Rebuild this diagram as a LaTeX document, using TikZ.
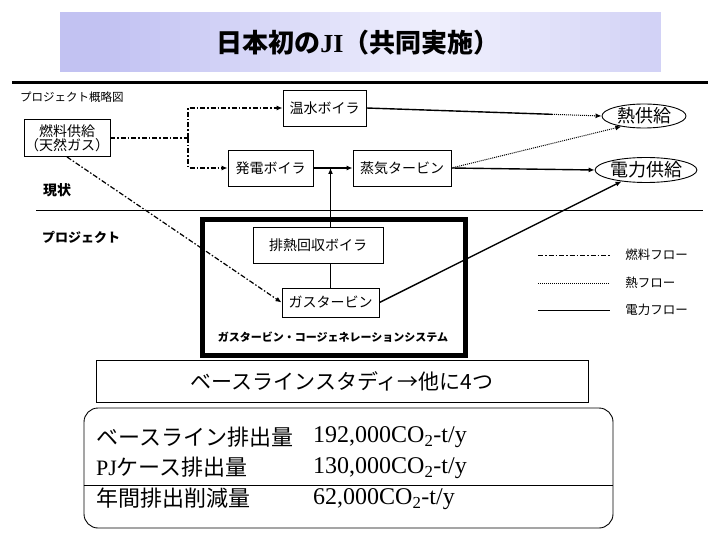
\documentclass[tikz,border=0pt]{standalone}
\usepackage{fontspec}
\setmainfont{Liberation Serif}
\newfontfamily\jp{Noto Sans CJK JP}
\usepackage{tikz}
\usetikzlibrary{arrows.meta, positioning, shapes.geometric, calc}

\definecolor{bandedge}{RGB}{194,194,242}
\definecolor{bandmid}{RGB}{240,240,253}

\newcommand{\fs}[1]{\fontsize{#1}{#1}\selectfont}

\begin{document}
\begin{tikzpicture}[
  x=1pt, y=-1pt,
  box/.style={draw, line width=0.9pt, inner sep=0pt, font=\jp\fs{14}, align=center},
  ell/.style={draw, ellipse, line width=0.9pt, inner sep=0pt, font=\jp\fs{18}},
  lbl/.style={anchor=west, inner sep=0pt, font=\jp\fs{12.5}},
  fuel/.style={line width=1.2pt, dash pattern=on 5pt off 2pt on 1.5pt off 2pt},
  heat/.style={line width=1pt, dash pattern=on 1pt off 1pt},
  power/.style={line width=1.4pt},
  arr/.style={-{Latex[length=6pt,width=5pt]}}
]
  \useasboundingbox (0,0) rectangle (720,540);

  % title band
  \foreach \i in {0,...,59} {
    \pgfmathtruncatemacro\m{min(100,abs(10*\i+65-440)/3.3)}
    \fill[bandedge!\m!bandmid] (60+10*\i,12) rectangle (70.6+10*\i,72);
  }
  \node[inner sep=0pt] (title) at (358,43)
    {\fs{26}\bfseries{\jp 日本初の}JI{\jp （共同実施）}};
  \draw[line width=3pt] (12,83) -- (708,83);

  \node[lbl, font=\jp\fs{11.5}] (caption) at (20,97) {プロジェクト概略図};

  % present situation
  \node[box, minimum width=86, minimum height=37, font=\jp\fs{14}, inner sep=1pt] (fuel) at (67,138)
    {燃料供給\\（天然ガス）};
  \node[box, minimum width=83, minimum height=36] (hwb) at (324.5,108) {温水ボイラ};
  \node[box, minimum width=85, minimum height=36] (pgb) at (270.5,168) {発電ボイラ};
  \node[box, minimum width=98, minimum height=36] (stt) at (402,168) {蒸気タービン};
  \node[ell, minimum width=84, minimum height=24] (heat) at (644,116) {熱供給};
  \node[ell, minimum width=88, minimum height=25] (elec) at (646,170) {電力供給};

  \node[lbl, font=\jp\bfseries\fs{14}] (now) at (43,190) {現状};
  \draw[line width=0.8pt] (36,210) -- (703,210);
  \node[lbl, font=\jp\bfseries\fs{13}] (proj) at (42,237) {プロジェクト};

  % project: gas turbine cogeneration
  \draw[line width=5pt] (202,220) rectangle (465,355);
  \node[box, minimum width=130, minimum height=36] (hrsg) at (318,245) {排熱回収ボイラ};
  \node[box, minimum width=97, minimum height=29] (gt) at (330.5,302.5) {ガスタービン};
  \node[inner sep=0pt, font=\jp\bfseries\fs{11}] (cgs) at (333,337)
    {ガスタービン・コージェネレーションシステム};

  % flows
  \coordinate (jn) at (188,138);
  \draw[fuel] (fuel.east) -- (jn);
  \draw[fuel, arr] (jn) |- (hwb.west);
  \draw[fuel, arr] (jn) |- (pgb.west);
  \draw[fuel, arr] (fuel.south) -- (gt.west);

  \draw[power] (hwb.east) -- ($(hwb.east)!0.79!(heat.180)$) coordinate (hs);
  \draw[heat, arr] (hs) -- (heat.180);
  \draw[heat, arr] (stt.east) -- (heat.205);
  \draw[power, arr] (pgb.east) -- (stt.west);
  \draw[power, arr] (stt.east) -- (elec.west);
  \draw[power, arr] (gt.north |- hrsg.north) -- (gt.north |- pgb.east);
  \draw[power] (gt.north) -- (gt.north |- hrsg.south);
  \draw[power, arr] (gt.east) -- (elec.205);

  % legend
  \draw[fuel, line width=0.8pt] (538,255) -- (610,255) node[lbl, right=15pt] (lfuel) {燃料フロー};
  \draw[heat, line width=0.8pt] (538,283) -- (610,283) node[lbl, right=15pt] (lheat) {熱フロー};
  \draw[line width=0.8pt] (538,310) -- (610,310) node[lbl, right=15pt] (lelec) {電力フロー};

  % baseline study and emissions
  \node[box, minimum width=492, minimum height=42, font=\jp\fs{21}] (study) at (342,381)
    {ベースラインスタディ→他に4つ};
  \node[draw, line width=0.9pt, rounded corners=14pt, minimum width=529, minimum height=120] (res) at (348.5,468) {};
  \coordinate (sep) at (0,485);
  \draw[line width=0.9pt] (res.west |- sep) -- (res.east |- sep);

  \node[lbl, font=\jp\fs{22}] (r1) at (96,437) {ベースライン排出量};
  \node[lbl, font=\fs{22}] (r2) at (96,467) {PJ{\jp ケース排出量}};
  \node[lbl, font=\jp\fs{22}] (r3) at (96,498) {年間排出削減量};
  \node[lbl, font=\fs{24}] (v1) at (313,437) {192,000CO\textsubscript{2}-t/y};
  \node[lbl, font=\fs{24}] (v2) at (313,468) {130,000CO\textsubscript{2}-t/y};
  \node[lbl, font=\fs{24}] (v3) at (313,499) {62,000CO\textsubscript{2}-t/y};
\end{tikzpicture}
\end{document}
